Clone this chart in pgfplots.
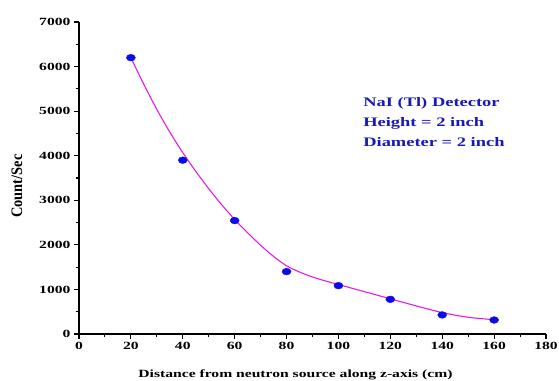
\documentclass[border=0pt]{standalone}
\usepackage{pgfplots}
\pgfplotsset{compat=1.18}
\usepackage{fontspec}
\setmainfont{Liberation Serif}[FakeStretch=1.42]
\newfontfamily\ylabfont{Liberation Serif}[FakeStretch=0.9]
\definecolor{curvemag}{RGB}{225,30,225}
\definecolor{ptblue}{RGB}{10,10,235}
\definecolor{txtblue}{RGB}{25,25,185}
\begin{document}
\begin{tikzpicture}
\begin{axis}[
  scale only axis,
  width=467pt, height=312pt,
  xmin=0, xmax=180, ymin=0, ymax=7000,
  axis x line*=bottom, axis y line*=left,
  axis line style={line width=1.3pt, -},
  xtick={0,20,...,180}, ytick={0,1000,...,7000},
  minor x tick num=1, minor y tick num=1,
  tick align=outside,
  major tick length=5pt, minor tick length=3pt,
  every tick/.style={black, line width=1.1pt},
  scaled y ticks=false,
  /pgf/number format/assume math mode=true,
  /pgf/number format/1000 sep={},
  tick label style={font=\fontsize{11}{12}\selectfont\bfseries},
  xlabel={Distance from neutron source along z-axis (cm)},
  ylabel={Count/Sec},
  xlabel style={font=\fontsize{11}{12}\selectfont\bfseries, at={([xshift=-17pt,yshift=-43pt]axis description cs:0.5,0)}, anchor=base},
  ylabel style={font=\ylabfont\fontsize{16}{17}\selectfont\bfseries, at={([xshift=-62pt]axis description cs:0,0.474)}, anchor=center},
  clip=false,
]
\addplot[curvemag, line width=1.1pt, smooth, tension=0.5] coordinates {
  (20,6200) (25,5600) (30,5040) (35,4530) (40,4070) (45,3650) (50,3260)
  (55,2900) (60,2570) (65,2270) (70,1990) (75,1740) (80,1530) (85,1390)
  (90,1280) (95,1190) (100,1110) (110,950) (120,790) (130,630) (140,480)
  (150,375) (160,320)
};
\addplot[only marks, mark=*, mark size=4.5pt, ptblue, mark options={draw=ptblue, fill=ptblue, yscale=0.75}] coordinates {
  (20,6200) (40,3900) (60,2545) (80,1400) (100,1085) (120,778) (140,428) (160,314)
};
\node[anchor=west, align=left, text=txtblue, font=\fontsize{13}{20}\selectfont\bfseries, inner sep=0pt] at (axis cs:109.5,4760)
  {NaI (Tl) Detector\\Height = 2 inch\\Diameter = 2 inch};
\end{axis}
\pgfresetboundingbox
\path[use as bounding box] ([shift={(-79pt,-46pt)}]current axis.south west) rectangle ([shift={(480pt,334pt)}]current axis.south west);
\end{tikzpicture}
\end{document}
